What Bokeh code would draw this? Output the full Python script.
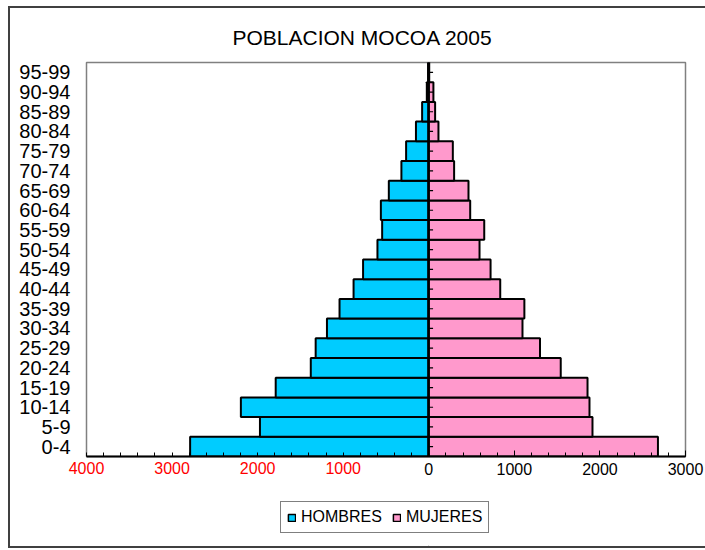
from bokeh.plotting import figure
from bokeh.layouts import column
from bokeh.models import (FactorRange, Range1d, FixedTicker, LinearAxis, ColumnDataSource,
                          Legend, LegendItem)
from bokeh.embed import file_html
from bokeh.resources import INLINE

# ---- data ----
ages = ["0-4", "5-9", "10-14", "15-19", "20-24", "25-29", "30-34", "35-39", "40-44",
        "45-49", "50-54", "55-59", "60-64", "65-69", "70-74", "75-79", "80-84",
        "85-89", "90-94", "95-99"]
hombres = [2789, 1973, 2196, 1789, 1379, 1322, 1190, 1043, 879, 768, 600, 545, 560,
           467, 320, 265, 150, 78, 23, 8]
mujeres = [2678, 1913, 1878, 1855, 1542, 1300, 1095, 1117, 835, 722, 593, 648, 484,
           464, 296, 281, 113, 74, 54, 5]
pos_ticks = [0, 1000, 2000, 3000]
neg_ticks = [-4000, -3000, -2000, -1000]
neg_labels = {-4000: "4000", -3000: "3000", -2000: "2000", -1000: "1000"}
minor_ticks = list(range(-4000, 3001, 200))
series_names = ["HOMBRES", "MUJERES"]
series_colors = ["#00CCFF", "#FF99CC"]

FONT = "Liberation Sans"

src = ColumnDataSource(dict(age=ages,
                            hl=[-v for v in hombres],
                            mr=mujeres,
                            zero=[0] * len(ages),
                            tick=[50] * len(ages)))

FRAME_W = 599
LEFT, RIGHT = 76, 20

# ---------------- main chart ----------------
p = figure(frame_width=FRAME_W, frame_height=394, x_range=Range1d(-4000, 3000),
           y_range=FactorRange(factors=ages, range_padding=0),
           output_backend="svg", toolbar_location=None,
           min_border_left=LEFT, min_border_right=RIGHT, min_border_top=54,
           min_border_bottom=30)

p.title.text = "POBLACION MOCOA 2005"
p.title.text_font = FONT
p.title.text_font_size = "21px"
p.title.text_font_style = "normal"
p.title.text_color = "black"
p.title.align = "left"
p.title.offset = 146
p.title.standoff = 27

r1 = p.hbar(y="age", left="hl", right="zero", height=1.0, source=src,
            fill_color=series_colors[0], line_color="black", line_width=2)
r2 = p.hbar(y="age", left="zero", right="mr", height=1.0, source=src,
            fill_color=series_colors[1], line_color="black", line_width=2)

# vertical axis at zero with ticks pointing right
p.vspan(x=[0], line_color="black", line_width=2.5)
p.segment(x0="zero", x1="tick", y0="age", y1="age", source=src,
          line_color="black", line_width=1.2)

p.xgrid.grid_line_color = None
p.ygrid.grid_line_color = None
p.outline_line_color = "#808080"
p.outline_line_width = 1.5

xa = p.xaxis[0]
xa.ticker = FixedTicker(ticks=pos_ticks, minor_ticks=minor_ticks)
xa.axis_line_color = "black"
xa.axis_line_width = 2
xa.major_tick_in = 6
xa.major_tick_out = 0
xa.minor_tick_in = 4
xa.minor_tick_out = 0
xa.major_tick_line_color = "black"
xa.minor_tick_line_color = "black"
xa.major_label_text_font = FONT
xa.major_label_text_font_size = "16px"
xa.major_label_text_color = "black"
xa.major_label_standoff = 6

# second (red) label row for the male side, pulled up onto the same line
xa2 = LinearAxis(ticker=FixedTicker(ticks=neg_ticks, minor_ticks=[]),
                 major_label_overrides=neg_labels)
xa2.axis_line_color = None
xa2.major_tick_line_color = None
xa2.minor_tick_line_color = None
xa2.major_tick_in = 0
xa2.major_tick_out = 0
xa2.minor_tick_in = 0
xa2.minor_tick_out = 0
xa2.major_label_text_font = FONT
xa2.major_label_text_font_size = "16px"
xa2.major_label_text_color = "#FF0000"
xa2.major_label_standoff = -16
p.add_layout(xa2, "below")

ya = p.yaxis[0]
ya.axis_line_color = None
ya.major_tick_line_color = None
ya.major_tick_out = 0
ya.major_tick_in = 0
ya.minor_tick_line_color = None
ya.major_label_text_font = FONT
ya.major_label_text_font_size = "20px"
ya.major_label_text_color = "black"
ya.major_label_standoff = 16

# ---------------- legend strip ----------------
STRIP_H = 60
p2 = figure(frame_width=FRAME_W, frame_height=STRIP_H, x_range=p.x_range,
            y_range=Range1d(0, STRIP_H), output_backend="svg", toolbar_location=None,
            x_axis_location=None, y_axis_location=None,
            min_border_left=LEFT, min_border_right=RIGHT, min_border_top=0,
            min_border_bottom=0)
p2.outline_line_color = None
p2.xgrid.grid_line_color = None
p2.ygrid.grid_line_color = None

# legend swatches (single point outside the visible range)
swatch = ColumnDataSource(dict(y=[-50], l=[0], r=[1]))
d1 = p2.hbar(y="y", left="l", right="r", height=1, source=swatch,
             fill_color=series_colors[0], line_color="black", line_width=1.5)
d2 = p2.hbar(y="y", left="l", right="r", height=1, source=swatch,
             fill_color=series_colors[1], line_color="black", line_width=1.5)

legend = Legend(items=[LegendItem(label=series_names[0], renderers=[d1]),
                       LegendItem(label=series_names[1], renderers=[d2])],
                orientation="horizontal", location=(194, 13))
legend.label_text_font = FONT
legend.label_text_font_size = "16px"
legend.label_text_color = "black"
legend.glyph_width = 9
legend.glyph_height = 9
legend.label_standoff = 5
legend.border_line_color = "black"
legend.border_line_width = 1
legend.padding = 6
legend.spacing = 10
legend.margin = 0
p2.add_layout(legend)

layout = column(p, p2, spacing=0, margin=(6, 0, 0, 8),
                styles={"border-left": "2px solid #404040",
                        "border-top": "2px solid #404040",
                        "border-bottom": "2px solid #404040"})
open("out.html", "w").write(file_html(layout, INLINE))
